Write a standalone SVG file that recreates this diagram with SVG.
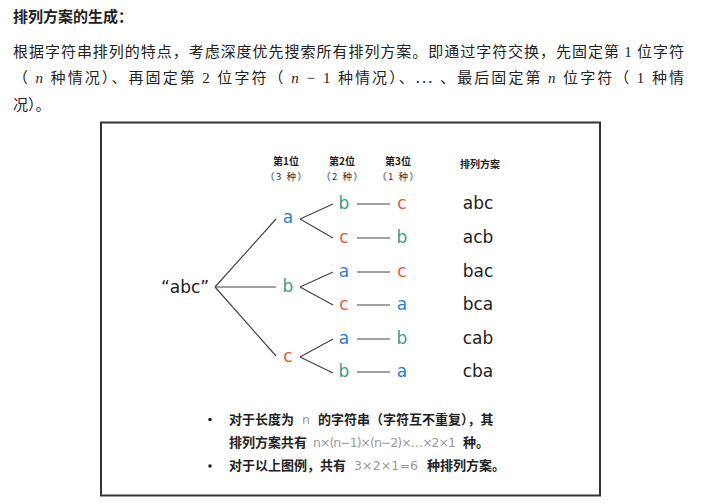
<svg xmlns="http://www.w3.org/2000/svg" width="705" height="504" viewBox="0 0 705 504">
  <style>
    .cjk { font-family: "Noto Sans CJK SC", "Noto Sans", sans-serif; fill: #222; }
    .title { font-size: 15px; font-weight: bold; }
    .para { font-size: 15px; }
    .math { font-family: "Liberation Serif", "DejaVu Serif", serif; }
    .mi { font-style: italic; }
    .hd { font-size: 10px; font-weight: bold; fill: #222; text-anchor: middle; }
    .hd2 { font-size: 9.5px; fill: #333; }
    .node { font-family: "DejaVu Sans", sans-serif; font-size: 17px; text-anchor: middle; }
    .ca { fill: #2b7de0; }
    .cb { fill: #3a9d8c; }
    .cc { fill: #e4583e; }
    .res { fill: #222; }
    .note { font-size: 13px; font-weight: bold; fill: #222; }
    .code { font-family: "DejaVu Sans", "Liberation Sans", sans-serif; fill: #999; font-size: 12.5px; }
    .edge { stroke: #444; stroke-width: 1.2; fill: none; }
  </style>

  <!-- heading and explanation -->
  <text class="cjk title" x="13" y="22">排列方案的生成：</text>
  <text class="cjk para" x="13" y="57" textLength="671" lengthAdjust="spacing">根据字符串排列的特点，考虑深度优先搜索所有排列方案。即通过字符交换，先固定第 <tspan class="math">1</tspan> 位字符</text>
  <text class="cjk para" x="13" y="83" textLength="671" lengthAdjust="spacing">（ <tspan class="math mi">n</tspan> 种情况）、再固定第 <tspan class="math">2</tspan> 位字符（ <tspan class="math mi">n</tspan><tspan class="math"> − 1</tspan> 种情况）、... 、最后固定第 <tspan class="math mi">n</tspan> 位字符（ <tspan class="math">1</tspan> 种情</text>
  <text class="cjk para" x="13" y="110">况）。</text>

  <!-- frame -->
  <rect x="101" y="122.5" width="499" height="373" fill="#fff" stroke="#333" stroke-width="2"/>

  <!-- column headers -->
  <g id="headers">
    <text class="cjk hd" x="286" y="165">第1位</text>
    <text class="cjk hd2" x="265" y="180" textLength="42" lengthAdjust="spacing">（3 种）</text>
    <text class="cjk hd" x="342" y="165">第2位</text>
    <text class="cjk hd2" x="321" y="180" textLength="42" lengthAdjust="spacing">（2 种）</text>
    <text class="cjk hd" x="398" y="165">第3位</text>
    <text class="cjk hd2" x="377" y="180" textLength="42" lengthAdjust="spacing">（1 种）</text>
    <text class="cjk hd" x="480" y="168">排列方案</text>
  </g>

  <!-- connectors -->
  <g id="connectors" class="edge">
    <line x1="215" y1="287" x2="276" y2="219"/>
    <line x1="215" y1="287" x2="276" y2="287"/>
    <line x1="215" y1="287" x2="276" y2="356"/>

    <line x1="300" y1="219" x2="333" y2="204"/>
    <line x1="300" y1="219" x2="333" y2="238"/>
    <line x1="300" y1="287" x2="333" y2="272"/>
    <line x1="300" y1="287" x2="333" y2="305"/>
    <line x1="300" y1="357" x2="333" y2="339"/>
    <line x1="300" y1="357" x2="333" y2="373"/>

    <line x1="357" y1="204" x2="390" y2="204"/>
    <line x1="357" y1="238" x2="390" y2="238"/>
    <line x1="357" y1="272" x2="390" y2="272"/>
    <line x1="357" y1="305" x2="390" y2="305"/>
    <line x1="357" y1="339" x2="390" y2="339"/>
    <line x1="357" y1="372" x2="390" y2="372"/>
  </g>

  <!-- root -->
  <g id="root"><text class="node res" x="185" y="293">“abc”</text></g>

  <!-- first position -->
  <g id="l1-a"><text class="node ca" x="288" y="223">a</text></g>
  <g id="l1-b"><text class="node cb" x="288" y="292">b</text></g>
  <g id="l1-c"><text class="node cc" x="288" y="362">c</text></g>

  <!-- second position -->
  <g id="l2-ab"><text class="node cb" x="344" y="209">b</text></g>
  <g id="l2-ac"><text class="node cc" x="344" y="243">c</text></g>
  <g id="l2-ba"><text class="node ca" x="344" y="277">a</text></g>
  <g id="l2-bc"><text class="node cc" x="344" y="310">c</text></g>
  <g id="l2-ca"><text class="node ca" x="344" y="344">a</text></g>
  <g id="l2-cb"><text class="node cb" x="344" y="377">b</text></g>

  <!-- third position -->
  <g id="l3-abc"><text class="node cc" x="402" y="209">c</text></g>
  <g id="l3-acb"><text class="node cb" x="402" y="243">b</text></g>
  <g id="l3-bac"><text class="node cc" x="402" y="277">c</text></g>
  <g id="l3-bca"><text class="node ca" x="402" y="310">a</text></g>
  <g id="l3-cab"><text class="node cb" x="402" y="344">b</text></g>
  <g id="l3-cba"><text class="node ca" x="402" y="377">a</text></g>

  <!-- resulting permutations -->
  <g id="results">
    <text class="node res" x="478" y="209">abc</text>
    <text class="node res" x="478" y="243">acb</text>
    <text class="node res" x="478" y="277">bac</text>
    <text class="node res" x="478" y="310">bca</text>
    <text class="node res" x="478" y="344">cab</text>
    <text class="node res" x="478" y="377">cba</text>
  </g>

  <!-- notes -->
  <g id="notes">
    <circle cx="210" cy="419.5" r="1.8" fill="#222"/>
    <circle cx="210" cy="466" r="1.8" fill="#222"/>
    <text class="cjk note" x="229" y="424">对于长度为</text>
    <text class="code" x="302" y="424">n</text>
    <text class="cjk note" x="318" y="424">的字符串（字符互不重复），其</text>
    <text class="cjk note" x="229" y="447">排列方案共有</text>
    <text class="code" x="313" y="447" textLength="143" lengthAdjust="spacing">n×(n−1)×(n−2)×…×2×1</text>
    <text class="cjk note" x="463" y="447">种。</text>
    <text class="cjk note" x="229" y="470">对于以上图例，共有</text>
    <text class="code" x="354" y="470" textLength="64" lengthAdjust="spacing">3×2×1=6</text>
    <text class="cjk note" x="427" y="470">种排列方案。</text>
  </g>
</svg>
